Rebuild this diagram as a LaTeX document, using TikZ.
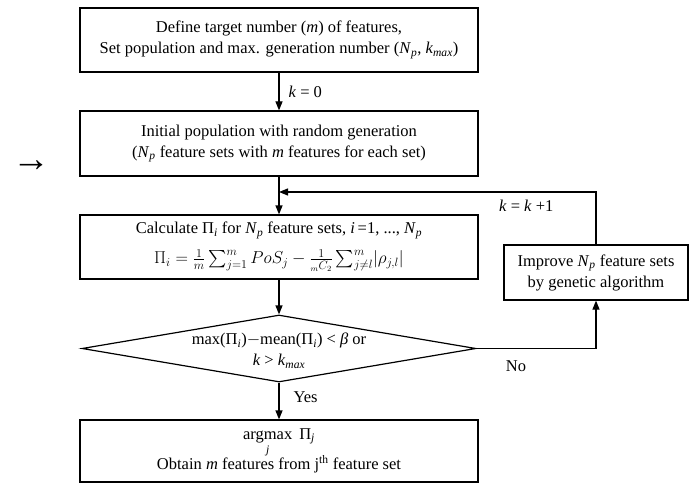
\documentclass[tikz,border=0pt]{standalone}
\usepackage{amsmath}
\usepackage{fontspec}
\setmainfont{Liberation Serif}
\newfontfamily\arrowfont{Liberation Serif}
\usetikzlibrary{arrows.meta,shapes.geometric}
\newcommand\Np{\textit{N}\textsubscript{\textit{p}}}
\newcommand\Kmax{\textit{k}\textsubscript{\textit{max}}}
\begin{document}
\begin{tikzpicture}[x=1pt,y=-1pt,
  every node/.style={font=\fontsize{16.5}{21}\selectfont},
  box/.style={draw,line width=1.2pt,minimum width=398pt,inner sep=0pt,align=center},
  dia/.style={draw,line width=1.2pt,diamond,minimum width=394pt,minimum height=67pt,inner sep=0pt},
  arr/.style={line width=1.2pt,-{Triangle[length=9pt,width=7pt]}},
  lbl/.style={inner sep=0pt}]
\useasboundingbox (0,0) rectangle (691,484);

\node[box,minimum height=64pt] (b1) at (279,40)
  {Define target number (\textit{m}) of features,\\Set population and max. generation number (\Np, \Kmax)};
\node[box,minimum height=65pt] (b2) at (279,143.5)
  {Initial population with random generation\\(\Np{} feature sets with \textit{m} features for each set)};
\node[box,minimum height=64pt] (b3) at (279,247)
  {Calculate Π\textsubscript{\textit{i}} for \Np{} feature sets, \textit{i}\,=1, ..., \Np\\[9pt]
   $\Pi_i = \frac{1}{m}\sum_{j=1}^{m} PoS_j - \frac{1}{{}_{m}C_2}\sum_{j\neq l}^{m}\lvert\rho_{j,l}\rvert$};
\node[dia] (d) at (279,348.5) {};
\node[align=center,inner sep=0pt] (dt) at (279,351)
  {max(Π\textsubscript{\textit{i}})$-$mean(Π\textsubscript{\textit{i}}) < \textit{β} or\\\textit{k} > \Kmax};
\node[box,minimum height=62pt] (b4) at (279,451)
  {\raisebox{-2pt}{$\mathop{\text{argmax}}\limits_{\textit{j}}\ \text{Π}_{\textit{j}}$}\\[-3pt]
   Obtain \textit{m} features from j\textsuperscript{th} feature set};
\node[box,minimum width=184pt,minimum height=55pt] (imp) at (596,272.5)
  {Improve \Np{} feature sets\\by genetic algorithm};
\coordinate (j) at (279,192);
\node[inner sep=0pt] (ar) at (31.5,166) {\arrowfont\fontsize{38}{38}\selectfont →};

\draw[arr] (b1) -- node[right,lbl,xshift=9pt]{\textit{k} = 0} (b2);
\draw[arr] (b2) -- (b3);
\draw[arr] (b3) -- (d);
\draw[arr] (d) -- node[right,lbl,xshift=14pt,pos=0.4]{Yes} (b4);
\draw[arr] (d.east) -- node[pos=0.33,below,lbl,yshift=-12pt]{No} (d.east -| imp.south) -- (imp.south);
\draw[arr] (imp.north) |- node[pos=0.61,below,lbl,yshift=-7pt]{\textit{k} = \textit{k} +1} (j);
\end{tikzpicture}
\end{document}
